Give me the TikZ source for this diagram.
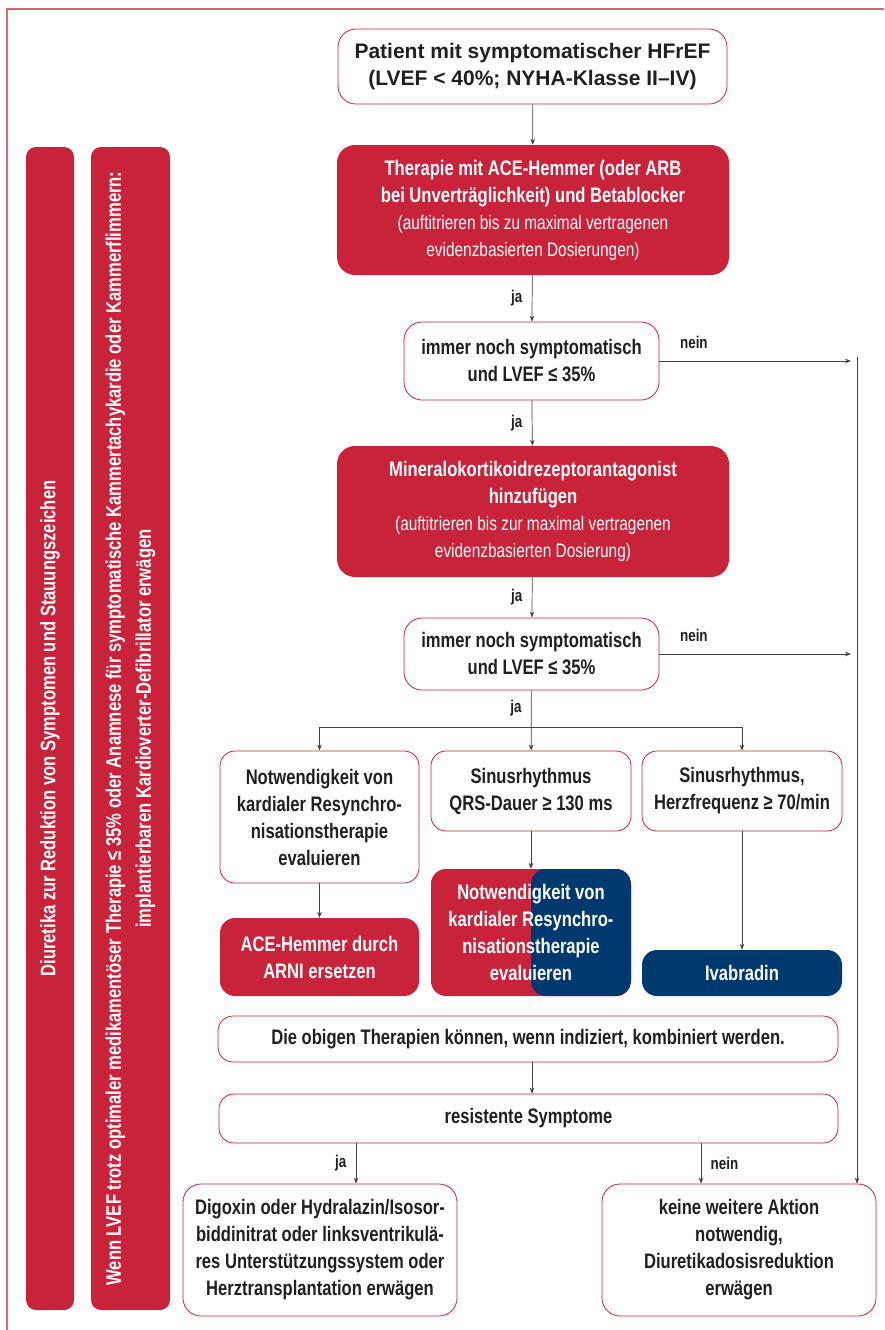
\documentclass[tikz,border=0pt]{standalone}
\usepackage{fontspec}
\setmainfont{Liberation Sans}
\newfontfamily\condfont[FakeStretch=0.79]{Liberation Sans}
\usetikzlibrary{arrows.meta}
\definecolor{dred}{HTML}{C8233A}
\definecolor{dblue}{HTML}{003870}
\definecolor{ink}{HTML}{231F20}
\definecolor{framered}{HTML}{DA6873}
\newcommand\subline[1]{{\mdseries\fontsize{19.5}{26}\selectfont #1}}

\begin{document}
\begin{tikzpicture}[x=1pt,y=-1pt,
  box/.style={rounded corners=15pt, inner sep=0pt, align=center,
    font=\condfont\bfseries\fontsize{21}{27}\selectfont},
  wbox/.style={box, draw=dred, line width=0.8pt, fill=white, text=ink},
  rbox/.style={box, fill=dred, text=white},
  bbox/.style={box, fill=dblue, text=white},
  line/.style={draw=ink!85, line width=0.7pt},
  arr/.style={line, -{Stealth[length=6pt,width=4.5pt]}},
  lbl/.style={font=\condfont\bfseries\fontsize{17}{20}\selectfont, text=ink}
]
\useasboundingbox (0,0) rectangle (884,1330);
\draw[framered, line width=1.2pt] (884,9) -- (7,9) -- (7,1330);

\node[rbox, rotate=90, minimum width=1163pt, minimum height=48pt, rounded corners=10pt] (bar1) at (50,728.5)
  {Diuretika zur Reduktion von Symptomen und Stauungszeichen};
\node[rbox, rotate=90, minimum width=1163pt, minimum height=79pt, rounded corners=10pt,
  font=\condfont\bfseries\fontsize{21}{30}\selectfont] (bar2) at (130.5,728.5)
  {Wenn LVEF trotz optimaler medikamentöser Therapie ≤ 35\% oder Anamnese für symptomatische Kammertachykardie oder Kammerflimmern:\\
   implantierbaren Kardioverter-Defibrillator erwägen};

\node[wbox, minimum width=389pt, minimum height=75pt, rounded corners=18pt,
  font=\bfseries\fontsize{21}{27}\selectfont] (top) at (532.5,66.5)
  {Patient mit symptomatischer HFrEF\\(LVEF < 40\%; NYHA-Klasse II–IV)};
\node[rbox, minimum width=392pt, minimum height=130pt, rounded corners=18pt] (ace) at (533,210)
  {Therapie mit ACE-Hemmer (oder ARB\\bei Unverträglichkeit) und Betablocker\\
   \subline{(auftitrieren bis zu maximal vertragenen}\\\subline{evidenzbasierten Dosierungen)}};
\node[wbox, minimum width=255pt, minimum height=78pt, rounded corners=18pt] (q1) at (531.5,361)
  {immer noch symptomatisch\\und LVEF ≤ 35\%};
\node[rbox, minimum width=392pt, minimum height=131pt, rounded corners=18pt] (mra) at (533,511.5)
  {Mineralokortikoidrezeptorantagonist\\hinzufügen\\
   \subline{(auftitrieren bis zur maximal vertragenen}\\\subline{evidenzbasierten Dosierung)}};
\node[wbox, minimum width=255pt, minimum height=72pt, rounded corners=18pt] (q2) at (531.5,654)
  {immer noch symptomatisch\\und LVEF ≤ 35\%};

\node[wbox, minimum width=199pt, minimum height=132pt] (crt) at (319.5,817)
  {Notwendigkeit von\\kardialer Resynchro-\\nisationstherapie\\evaluieren};
\node[wbox, minimum width=200pt, minimum height=80pt] (qrs) at (531,791)
  {Sinusrhythmus\\QRS-Dauer ≥ 130 ms};
\node[wbox, minimum width=200pt, minimum height=80pt] (hf) at (742,791)
  {Sinusrhythmus,\\Herzfrequenz ≥ 70/min};
\node[rbox, minimum width=199pt, minimum height=78pt] (arni) at (319.5,957)
  {ACE-Hemmer durch\\ARNI ersetzen};
\node[rbox, minimum width=200pt, minimum height=127pt,
  path picture={\fill[dblue] (path picture bounding box.north) rectangle (path picture bounding box.south east);}]
  (crt2) at (531,932.5)
  {Notwendigkeit von\\kardialer Resynchro-\\nisationstherapie\\evaluieren};
\node[bbox, minimum width=200pt, minimum height=46pt] (iva) at (742,973) {Ivabradin};

\node[wbox, minimum width=620pt, minimum height=46pt] (comb) at (528,1039)
  {Die obigen Therapien können, wenn indiziert, kombiniert werden.};
\node[wbox, minimum width=619pt, minimum height=49pt] (res) at (528.5,1118.5) {resistente Symptome};
\node[wbox, minimum width=274pt, minimum height=132pt, rounded corners=18pt] (dig) at (320,1250)
  {Digoxin oder Hydralazin/Isosor-\\biddinitrat oder linksventrikulä-\\res Unterstützungssystem oder\\Herztransplantation erwägen};
\node[wbox, minimum width=274pt, minimum height=132pt, rounded corners=18pt] (none) at (739,1250)
  {keine weitere Aktion\\notwendig,\\Diuretikadosisreduktion\\erwägen};

\coordinate (r1) at (851,361);
\coordinate (rv) at (857,357);
\coordinate (fork) at (532,727);
\coordinate (jx) at (356,0);
\coordinate (nx) at (701,0);

\draw[arr] (top) -- (ace);
\draw[arr] (ace) -- (q1) node[lbl, midway, left=6pt] {ja};
\draw[arr] (q1) -- (mra) node[lbl, midway, left=6pt] {ja};
\draw[arr] (mra) -- (q2) node[lbl, midway, left=6pt] {ja};
\draw[arr] (q2) -- (qrs) node[lbl, pos=0.3, left=6pt] {ja};
\draw[line] (crt.north |- fork) -- (hf.north |- fork);
\draw[arr] (crt.north |- fork) -- (crt);
\draw[arr] (hf.north |- fork) -- (hf);
\draw[arr] (q1.east) -- (r1) node[lbl, pos=0.18, above=9pt] {nein};
\draw[arr] (q2.east) -- (q2.east -| r1) node[lbl, pos=0.18, above=9pt] {nein};
\draw[arr] (rv) -- (rv |- none.north);
\draw[arr] (crt) -- (arni);
\draw[arr] (qrs) -- (crt2);
\draw[arr] (hf) -- (iva);
\draw[arr] (comb.south -| fork) -- (res.north -| fork);
\draw[arr] (res.south -| jx) -- (dig.north -| jx) node[lbl, midway, left=6pt] {ja};
\draw[arr] (res.south -| nx) -- (none.north -| nx) node[lbl, midway, right=6pt] {nein};
\end{tikzpicture}
\end{document}
